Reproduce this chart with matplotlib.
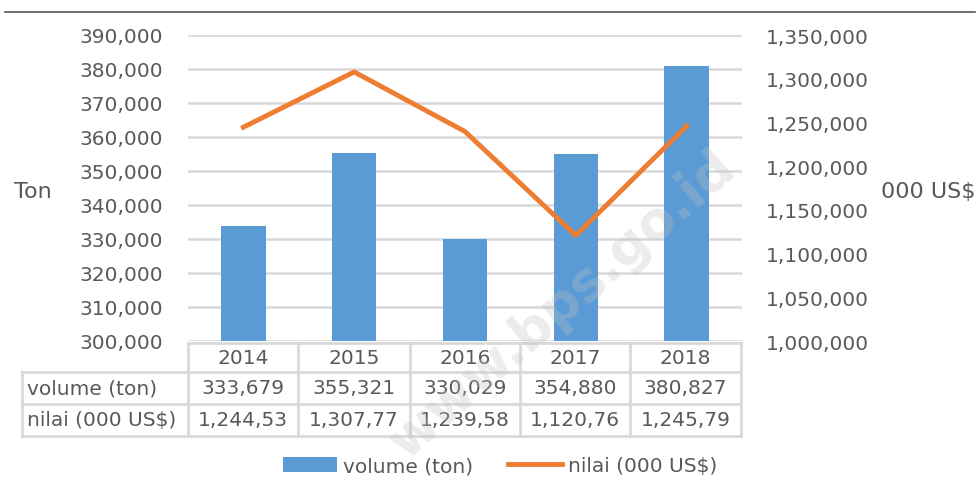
import matplotlib
matplotlib.use("Agg")
import matplotlib.pyplot as plt
from matplotlib.patches import Patch
from matplotlib.lines import Line2D

years = ["2014", "2015", "2016", "2017", "2018"]
volume = [333679, 355321, 330029, 354880, 380827]
nilai = [1244530, 1307770, 1239580, 1120760, 1245790]
# the data table shows nilai cut off by one digit
nilai_tabel = ["1,244,53", "1,307,77", "1,239,58", "1,120,76", "1,245,79"]

W, H = 977, 481
fig = plt.figure(figsize=(W / 100, H / 100), dpi=100)
plt.rcParams['font.family'] = ['DejaVu Sans']
txt = "#595959"
grid = "#d9d9d9"
blue = "#5b9bd5"
orange = "#ed7d31"
fs = 14.5


def fx(px):
    return px / W


def fy(py):
    return 1 - py / H


ax = fig.add_axes([fx(188), fy(342), fx(742) - fx(188), fy(36) - fy(342)])
x = list(range(len(years)))
ax.bar(x, volume, width=0.4, color=blue, zorder=2)
ax.set_ylim(300000, 390000)
ax.set_yticks(range(300000, 390001, 10000))
ax.set_yticklabels(["{:,}".format(v) for v in range(300000, 390001, 10000)])
ax.set_xlim(-0.5, 4.5)
ax.set_xticks([])
ax.grid(axis="y", color=grid, linewidth=1.8, zorder=0)
ax.set_axisbelow(True)
for s in ax.spines.values():
    s.set_visible(False)
ax.tick_params(axis="y", length=0, pad=18, labelsize=fs, labelcolor=txt)

ax2 = ax.twinx()
ax2.plot(x, nilai, color=orange, linewidth=3.5, zorder=3)
ax2.set_ylim(1000000, 1350000)
ax2.set_yticks(range(1000000, 1350001, 50000))
ax2.set_yticklabels(["{:,}".format(v) for v in range(1000000, 1350001, 50000)])
for s in ax2.spines.values():
    s.set_visible(False)
ax2.tick_params(axis="y", length=0, pad=17, labelsize=fs, labelcolor=txt)

# axis titles
fig.text(fx(14), fy(192), "Ton", fontsize=16, color=txt, ha="left", va="center")
fig.text(fx(881), fy(192), "000 US$", fontsize=16, color=txt, ha="left", va="center")

# top rule
fig.add_artist(Line2D([fx(5), fx(975)], [fy(13), fy(13)], color="#555555", linewidth=1.2))

# data table
cols = [188, 298, 410, 520, 630, 741]
rows = [344, 373, 405, 437]
lw = 2
fig.add_artist(Line2D([fx(188), fx(741)], [fy(rows[0])] * 2, color=grid, linewidth=lw))
for r in rows[1:]:
    fig.add_artist(Line2D([fx(22), fx(741)], [fy(r)] * 2, color=grid, linewidth=lw))
for c in cols:
    fig.add_artist(Line2D([fx(c)] * 2, [fy(rows[0]), fy(rows[3])], color=grid, linewidth=lw))
fig.add_artist(Line2D([fx(22)] * 2, [fy(rows[1]), fy(rows[3])], color=grid, linewidth=lw))

row_labels = ["volume (ton)", "nilai (000 US$)"]
row_vals = [["{:,}".format(v) for v in volume], nilai_tabel]
for i, yr in enumerate(years):
    cx = (cols[i] + cols[i + 1]) / 2
    fig.text(fx(cx), fy((rows[0] + rows[1]) / 2), yr, fontsize=fs, color=txt, ha="center", va="center")
for j in range(2):
    cy = (rows[j + 1] + rows[j + 2]) / 2
    fig.text(fx(27), fy(cy), row_labels[j], fontsize=fs, color=txt, ha="left", va="center")
    for i in range(len(years)):
        cx = (cols[i] + cols[i + 1]) / 2
        fig.text(fx(cx), fy(cy), row_vals[j][i], fontsize=fs, color=txt, ha="center", va="center")

# legend
handles = [Patch(facecolor=blue, label="volume (ton)"),
           Line2D([], [], color=orange, linewidth=3.5, label="nilai (000 US$)")]
leg = fig.legend(handles=handles, loc="center", bbox_to_anchor=(fx(500), fy(467)), ncol=2,
                 frameon=False, fontsize=fs, handlelength=2.7, handleheight=0.75,
                 handletextpad=0.3, columnspacing=1.7)
for t in leg.get_texts():
    t.set_color(txt)

# watermark
fig.text(fx(562), fy(305), "www.bps.go.id", fontsize=38, color="#c0c0c0", alpha=0.3,
         rotation=41, ha="center", va="center", fontweight="bold", zorder=10)

fig.savefig("out.png", dpi=100)
